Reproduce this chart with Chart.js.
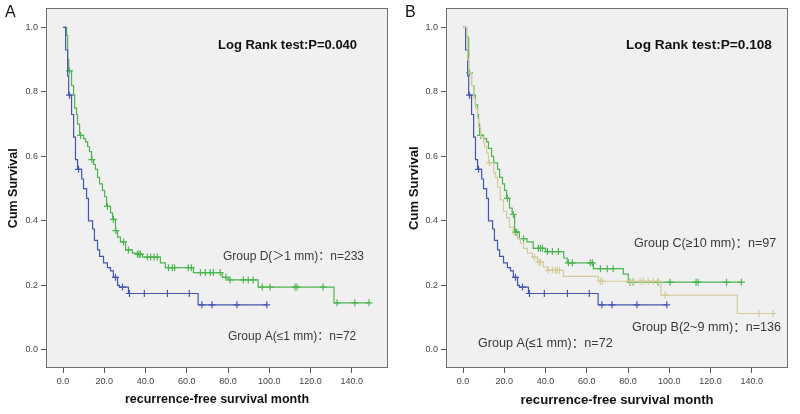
<!DOCTYPE html>
<html>
<head>
<meta charset="utf-8">
<script src="https://cdn.jsdelivr.net/npm/chart.js@4.4.1/dist/chart.umd.min.js"></script>
<style>
  body { margin: 0; background: #fff; width: 800px; height: 414px; overflow: hidden; display: flex; }
  .panel { position: relative; width: 400px; height: 414px; }
</style>
</head>
<body>
<div class="panel"><canvas id="chartA" width="400" height="414"></canvas></div>
<div class="panel"><canvas id="chartB" width="400" height="414"></canvas></div>
<script>
// ticks
const xTicks = [0, 20, 40, 60, 80, 100, 120, 140]
const yTicks = [0, 0.2, 0.4, 0.6, 0.8, 1.0]

// Group A (<=1 mm) - same curve in both panels
const groupATime = [0, 1.2, 2.2, 2.7, 4.1, 5.1, 6.0, 7.0, 9.0, 9.9, 11.4, 12.3, 14.3, 15.2, 16.7, 17.7, 19.6, 21.5, 23.0, 24.4, 26.4, 27.3, 31.7, 65.5, 98.8]
const groupASurv = [1.0, 0.93, 0.85, 0.79, 0.73, 0.66, 0.59, 0.56, 0.53, 0.50, 0.47, 0.40, 0.375, 0.34, 0.31, 0.29, 0.27, 0.255, 0.245, 0.225, 0.20, 0.195, 0.175, 0.14, 0.14]
const groupACensor = [3.1, 7.5, 25.4, 28.8, 32.2, 39.4, 50.6, 61.2, 67.3, 72.2, 84.3, 98.8]

// Group D (>1 mm) - panel A
const groupDTime = [0, 1.7, 2.2, 2.7, 4.1, 5.1, 5.6, 6.5, 7.0, 8.0, 9.9, 10.9, 11.9, 12.8, 13.8, 14.8, 15.7, 16.7, 17.7, 19.1, 20.1, 21.1, 23.0, 24.0, 25.4, 26.4, 27.8, 30.3, 33.6, 36.1, 38.5, 47.2, 49.6, 63.2, 77.2, 80.0, 94.6, 131.4, 148.4]
const groupDSurv = [1.0, 0.975, 0.90, 0.865, 0.82, 0.79, 0.75, 0.73, 0.70, 0.665, 0.655, 0.645, 0.63, 0.615, 0.59, 0.575, 0.56, 0.535, 0.515, 0.495, 0.475, 0.445, 0.425, 0.405, 0.37, 0.35, 0.335, 0.31, 0.30, 0.297, 0.288, 0.27, 0.255, 0.24, 0.225, 0.217, 0.195, 0.146, 0.146]
const groupDCensor = [3.1, 8.5, 14.0, 21.5, 24.4, 25.6, 29.3, 31.7, 36.1, 36.8, 37.5, 40.9, 42.5, 44.1, 45.7, 51.1, 53.0, 54.1, 60.7, 62.2, 66.6, 69.0, 71.4, 72.9, 76.2, 79.0, 81.0, 87.4, 89.8, 92.2, 96.6, 100.4, 112.5, 113.5, 126.1, 132.9, 141.5, 148.4]

// Group C (>=10 mm) - panel B
const groupCTime = [0, 1.7, 2.7, 4.1, 5.2, 6.0, 7.0, 7.5, 8.0, 9.9, 11.4, 12.3, 13.8, 14.8, 16.7, 17.7, 19.1, 20.1, 21.1, 22.5, 23.8, 25.0, 27.3, 31.0, 34.0, 40.0, 48.8, 50.5, 63.2, 77.7, 80.1, 135.0]
const groupCSurv = [1.0, 0.97, 0.86, 0.82, 0.79, 0.76, 0.73, 0.70, 0.665, 0.655, 0.645, 0.625, 0.60, 0.58, 0.56, 0.535, 0.515, 0.495, 0.47, 0.44, 0.42, 0.365, 0.345, 0.335, 0.315, 0.305, 0.285, 0.27, 0.252, 0.235, 0.21, 0.21]
const groupCCensor = [3.1, 8.5, 21.5, 24.4, 25.4, 26.0, 29.3, 36.5, 37.5, 38.5, 40.9, 43.3, 46.2, 51.1, 53.0, 61.7, 62.7, 66.6, 69.9, 72.8, 81.0, 82.5, 94.6, 100.4, 113.0, 114.0, 127.8, 135.0]

// Group B (2~9 mm) - panel B
const groupBTime = [0, 1.7, 2.2, 2.7, 4.1, 5.2, 6.0, 7.0, 7.5, 8.5, 9.9, 10.4, 11.4, 12.3, 14.8, 15.7, 16.7, 18.0, 19.6, 21.1, 22.5, 24.4, 26.4, 27.8, 29.3, 31.2, 33.6, 36.1, 38.9, 41.0, 48.7, 65.6, 96.0, 133.0, 150.3]
const groupBSurv = [1.0, 0.97, 0.90, 0.86, 0.82, 0.78, 0.75, 0.72, 0.69, 0.66, 0.645, 0.63, 0.61, 0.58, 0.55, 0.535, 0.505, 0.465, 0.43, 0.41, 0.38, 0.36, 0.345, 0.33, 0.315, 0.30, 0.288, 0.272, 0.257, 0.247, 0.228, 0.213, 0.17, 0.113, 0.113]
const groupBCensor = [12.8, 34.6, 36.8, 37.5, 41.4, 43.3, 44.8, 45.7, 46.7, 66.6, 67.6, 81.1, 82.5, 85.9, 87.3, 89.8, 92.2, 94.6, 98.0, 143.5, 150.3]

const blue = '#4656ae'
const green = '#4cb54f'
const tan = '#d4cb9a'
const fontFamily = "'Liberation Sans', 'Noto Sans CJK SC', sans-serif"

function survAt (times, surv, t) {
  let s = surv[0]
  for (let i = 0; i < times.length; i++) if (times[i] <= t) s = surv[i]
  return s
}

function kmDatasets (times, surv, censor, color) {
  return [
    {
      data: times.map((t, i) => ({ x: t, y: surv[i] })),
      borderColor: color,
      borderWidth: 1.2,
      stepped: true,
      pointRadius: 0,
      fill: false
    },
    {
      data: censor.map(t => ({ x: t, y: survAt(times, surv, t) })),
      showLine: false,
      pointStyle: 'cross',
      pointRadius: 3.5,
      borderColor: color,
      borderWidth: 1.2
    }
  ]
}

// plot background, frame and texts
const panelDecor = {
  id: 'panelDecor',
  beforeDraw (chart) {
    const { ctx, chartArea: { left, top, width, height } } = chart
    ctx.save()
    ctx.fillStyle = '#f0f0f0'
    ctx.fillRect(left, top, width, height)
    ctx.restore()
  },
  afterDraw (chart, args, opts) {
    const { ctx, chartArea: { left, top, right, bottom } } = chart
    ctx.save()
    ctx.strokeStyle = '#6e6e6e'
    ctx.lineWidth = 1
    ctx.strokeRect(Math.round(left) + 0.5, Math.round(top) + 0.5, Math.round(right - left) - 1, Math.round(bottom - top) - 1)

    ctx.fillStyle = '#111'
    ctx.textBaseline = 'middle'
    ctx.textAlign = 'left'
    ctx.font = `16px ${fontFamily}`
    ctx.fillText(opts.letter, 5, 13)

    const k = opts.k
    ctx.font = `bold ${12.5 * k}px ${fontFamily}`
    ctx.textAlign = 'center'
    ctx.fillText('recurrence-free survival month', (left + right) / 2, 400)

    ctx.save()
    ctx.translate(14, (top + bottom) / 2)
    ctx.rotate(-Math.PI / 2)
    ctx.fillText('Cum Survival', 0, 0)
    ctx.restore()

    ctx.textAlign = 'left'
    ctx.font = `bold ${13 * k}px ${fontFamily}`
    ctx.fillText(opts.logRank, opts.logRankX, 45)

    ctx.fillStyle = '#3a3a3a'
    ctx.font = `${12 * k}px ${fontFamily}`
    opts.notes.forEach(n => ctx.fillText(n.text, n.x, n.y))
    ctx.restore()
  }
}

function makeChart (id, datasets, decor) {
  return new Chart(document.getElementById(id), {
    type: 'line',
    data: { datasets },
    plugins: [panelDecor],
    options: {
      responsive: false,
      animation: false,
      layout: { padding: { left: 10, right: 12, top: 8, bottom: 0 } },
      plugins: { legend: { display: false }, tooltip: { enabled: false }, panelDecor: decor },
      scales: {
        x: {
          type: 'linear',
          min: -8.3,
          max: 157.6,
          afterBuildTicks: s => { s.ticks = xTicks.map(v => ({ value: v })) },
          afterFit: s => { s.height = 46 },
          ticks: { callback: v => v.toFixed(1), font: { family: fontFamily, size: 9 }, color: '#444', padding: 3, maxRotation: 0 },
          grid: { drawOnChartArea: false, tickLength: 5, color: '#555' },
          border: { display: false }
        },
        y: {
          min: -0.056,
          max: 1.059,
          afterBuildTicks: s => { s.ticks = yTicks.map(v => ({ value: v })) },
          afterFit: s => { s.width = 36 },
          ticks: { callback: v => v.toFixed(1), font: { family: fontFamily, size: 9 }, color: '#444', padding: 3 },
          grid: { drawOnChartArea: false, tickLength: 5, color: '#555' },
          border: { display: false }
        }
      }
    }
  })
}

makeChart('chartA', [
  ...kmDatasets(groupATime, groupASurv, groupACensor, blue),
  ...kmDatasets(groupDTime, groupDSurv, groupDCensor, green)
], {
  letter: 'A',
  k: 1,
  logRank: 'Log Rank test:P=0.040',
  logRankX: 218,
  notes: [
    { text: 'Group D(＞1 mm)：n=233', x: 223, y: 257 },
    { text: 'Group A(≤1 mm)：n=72', x: 228, y: 337 }
  ]
})

makeChart('chartB', [
  ...kmDatasets(groupBTime, groupBSurv, groupBCensor, tan),
  ...kmDatasets(groupATime, groupASurv, groupACensor, blue),
  ...kmDatasets(groupCTime, groupCSurv, groupCCensor, green)
], {
  letter: 'B',
  k: 1.05,
  logRank: 'Log Rank test:P=0.108',
  logRankX: 226,
  notes: [
    { text: 'Group C(≥10 mm)：n=97', x: 234, y: 244 },
    { text: 'Group B(2~9 mm)：n=136', x: 232, y: 328 },
    { text: 'Group A(≤1 mm)：n=72', x: 78, y: 344 }
  ]
})
</script>
</body>
</html>
